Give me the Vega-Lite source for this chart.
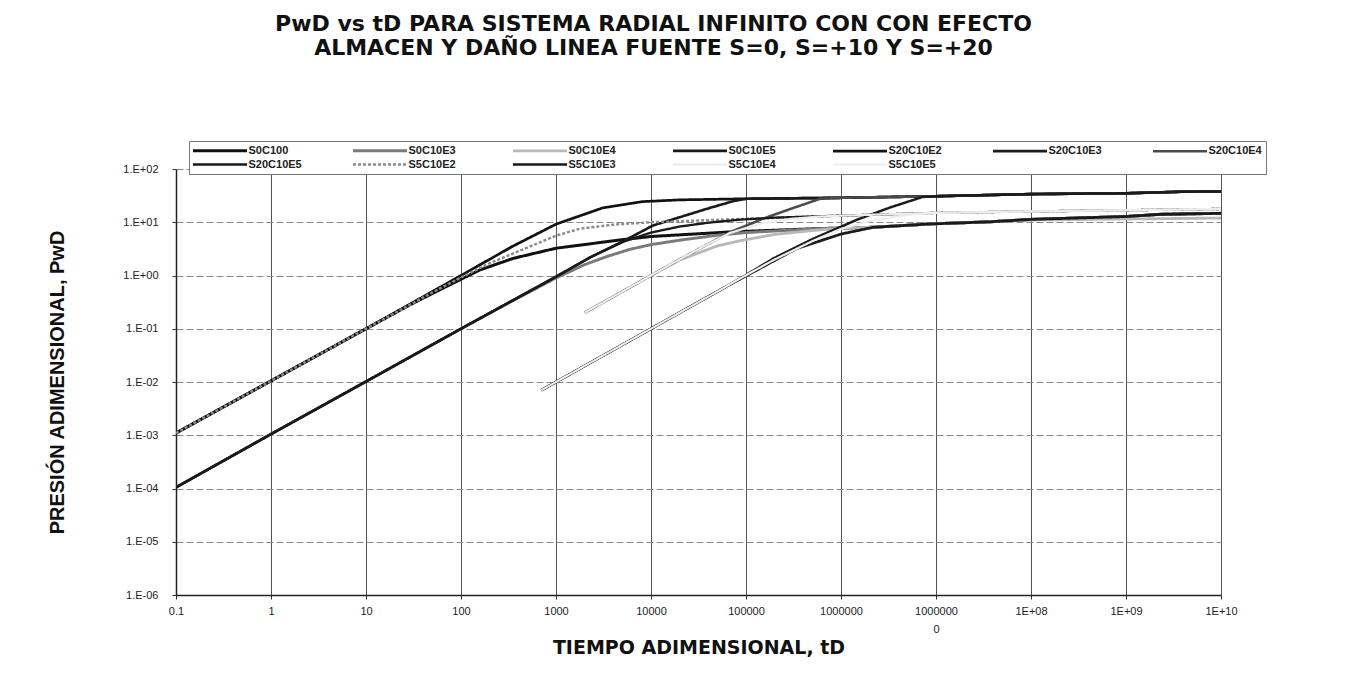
{
  "$schema": "https://vega.github.io/schema/vega-lite/v6.json",
  "autosize": {"type": "none"},
  "padding": {"left": 176, "top": 169, "right": 141, "bottom": 94},
  "width": 1045,
  "height": 426,
  "background": "white",
  "title": {
    "text": ["PwD vs tD PARA SISTEMA RADIAL INFINITO CON CON EFECTO", "ALMACEN Y DAÑO LINEA FUENTE  S=0, S=+10 Y S=+20"],
    "font": "DejaVu Sans",
    "fontSize": 22,
    "fontWeight": "bold",
    "color": "#111111",
    "anchor": "middle",
    "frame": "group",
    "dx": -45,
    "lineHeight": 24,
    "offset": 81
  },
  "data": {
    "values": [
      {"s": "S0C100", "t": 0.1, "p": 0.0011}, {"s": "S0C100", "t": 1, "p": 0.0105}, {"s": "S0C100", "t": 10, "p": 0.1}, {"s": "S0C100", "t": 30, "p": 0.29}, {"s": "S0C100", "t": 55, "p": 0.5}, {"s": "S0C100", "t": 100, "p": 0.85}, {"s": "S0C100", "t": 158, "p": 1.27}, {"s": "S0C100", "t": 355, "p": 2.1}, {"s": "S0C100", "t": 1000, "p": 3.25}, {"s": "S0C100", "t": 4700, "p": 4.65}, {"s": "S0C100", "t": 10000, "p": 5.4}, {"s": "S0C100", "t": 70000, "p": 6.6}, {"s": "S0C100", "t": 600000, "p": 7.6}, {"s": "S0C100", "t": 2200000, "p": 8.05}, {"s": "S0C100", "t": 8700000, "p": 9.3}, {"s": "S0C100", "t": 37000000, "p": 10.2}, {"s": "S0C100", "t": 100000000, "p": 11.3}, {"s": "S0C100", "t": 1000000000, "p": 12.8}, {"s": "S0C100", "t": 2300000000, "p": 14.1}, {"s": "S0C100", "t": 10000000000, "p": 14.7},

      {"s": "S0C10E3", "t": 0.1, "p": 0.000105}, {"s": "S0C10E3", "t": 1, "p": 0.00105}, {"s": "S0C10E3", "t": 10, "p": 0.0102}, {"s": "S0C10E3", "t": 100, "p": 0.1}, {"s": "S0C10E3", "t": 300, "p": 0.29}, {"s": "S0C10E3", "t": 1000, "p": 0.9}, {"s": "S0C10E3", "t": 2000, "p": 1.6}, {"s": "S0C10E3", "t": 3500, "p": 2.3}, {"s": "S0C10E3", "t": 6000, "p": 3.1}, {"s": "S0C10E3", "t": 10000, "p": 3.8}, {"s": "S0C10E3", "t": 20000, "p": 4.6}, {"s": "S0C10E3", "t": 50000, "p": 5.7}, {"s": "S0C10E3", "t": 100000, "p": 6.4}, {"s": "S0C10E3", "t": 600000, "p": 7.6}, {"s": "S0C10E3", "t": 2200000, "p": 8.05}, {"s": "S0C10E3", "t": 8700000, "p": 9.3}, {"s": "S0C10E3", "t": 37000000, "p": 10.2}, {"s": "S0C10E3", "t": 100000000, "p": 11.3}, {"s": "S0C10E3", "t": 1000000000, "p": 12.8}, {"s": "S0C10E3", "t": 2300000000, "p": 14.1}, {"s": "S0C10E3", "t": 10000000000, "p": 14.7},

      {"s": "S0C10E4", "t": 2000, "p": 0.2}, {"s": "S0C10E4", "t": 5000, "p": 0.5}, {"s": "S0C10E4", "t": 10000, "p": 1.0}, {"s": "S0C10E4", "t": 20000, "p": 1.95}, {"s": "S0C10E4", "t": 50000, "p": 3.6}, {"s": "S0C10E4", "t": 87000, "p": 4.5}, {"s": "S0C10E4", "t": 200000, "p": 5.9}, {"s": "S0C10E4", "t": 500000, "p": 7.0}, {"s": "S0C10E4", "t": 1000000, "p": 7.7}, {"s": "S0C10E4", "t": 2200000, "p": 8.05}, {"s": "S0C10E4", "t": 8700000, "p": 9.3}, {"s": "S0C10E4", "t": 37000000, "p": 10.2}, {"s": "S0C10E4", "t": 100000000, "p": 11.0}, {"s": "S0C10E4", "t": 1000000000, "p": 11.5}, {"s": "S0C10E4", "t": 10000000000, "p": 12.0},

      {"s": "S0C10E5", "t": 700, "p": 0.007}, {"s": "S0C10E5", "t": 1000, "p": 0.01}, {"s": "S0C10E5", "t": 10000, "p": 0.1}, {"s": "S0C10E5", "t": 50000, "p": 0.5}, {"s": "S0C10E5", "t": 68000, "p": 0.68}, {"s": "S0C10E5", "t": 150000, "p": 1.45}, {"s": "S0C10E5", "t": 340000, "p": 3.2}, {"s": "S0C10E5", "t": 1000000, "p": 6.0}, {"s": "S0C10E5", "t": 2200000, "p": 8.05}, {"s": "S0C10E5", "t": 8700000, "p": 9.3}, {"s": "S0C10E5", "t": 37000000, "p": 10.2}, {"s": "S0C10E5", "t": 100000000, "p": 11.3}, {"s": "S0C10E5", "t": 1000000000, "p": 12.8}, {"s": "S0C10E5", "t": 2300000000, "p": 14.1}, {"s": "S0C10E5", "t": 10000000000, "p": 14.7},

      {"s": "S20C10E2", "t": 0.1, "p": 0.0011}, {"s": "S20C10E2", "t": 1, "p": 0.0105}, {"s": "S20C10E2", "t": 10, "p": 0.1}, {"s": "S20C10E2", "t": 100, "p": 1.0}, {"s": "S20C10E2", "t": 346, "p": 3.5}, {"s": "S20C10E2", "t": 1000, "p": 9.2}, {"s": "S20C10E2", "t": 3100, "p": 18.6}, {"s": "S20C10E2", "t": 8100, "p": 24.4}, {"s": "S20C10E2", "t": 20000, "p": 26.3}, {"s": "S20C10E2", "t": 100000, "p": 27.6}, {"s": "S20C10E2", "t": 1000000, "p": 28.8}, {"s": "S20C10E2", "t": 10000000, "p": 30.8}, {"s": "S20C10E2", "t": 100000000, "p": 33.8}, {"s": "S20C10E2", "t": 1000000000, "p": 35.0}, {"s": "S20C10E2", "t": 4000000000, "p": 37.5}, {"s": "S20C10E2", "t": 10000000000, "p": 37.8},

      {"s": "S20C10E3", "t": 0.1, "p": 0.000105}, {"s": "S20C10E3", "t": 1, "p": 0.00105}, {"s": "S20C10E3", "t": 10, "p": 0.0102}, {"s": "S20C10E3", "t": 100, "p": 0.1}, {"s": "S20C10E3", "t": 1000, "p": 0.95}, {"s": "S20C10E3", "t": 2300, "p": 2.2}, {"s": "S20C10E3", "t": 5100, "p": 4.4}, {"s": "S20C10E3", "t": 10500, "p": 8.7}, {"s": "S20C10E3", "t": 20000, "p": 12.4}, {"s": "S20C10E3", "t": 40000, "p": 18.2}, {"s": "S20C10E3", "t": 74000, "p": 25.0}, {"s": "S20C10E3", "t": 100000, "p": 27.6}, {"s": "S20C10E3", "t": 1000000, "p": 28.8}, {"s": "S20C10E3", "t": 10000000, "p": 30.8}, {"s": "S20C10E3", "t": 100000000, "p": 33.8}, {"s": "S20C10E3", "t": 1000000000, "p": 35.0}, {"s": "S20C10E3", "t": 4000000000, "p": 37.5}, {"s": "S20C10E3", "t": 10000000000, "p": 37.8},

      {"s": "S20C10E4", "t": 2000, "p": 0.2}, {"s": "S20C10E4", "t": 5000, "p": 0.5}, {"s": "S20C10E4", "t": 10000, "p": 1.0}, {"s": "S20C10E4", "t": 20000, "p": 2.0}, {"s": "S20C10E4", "t": 40000, "p": 3.9}, {"s": "S20C10E4", "t": 68000, "p": 6.5}, {"s": "S20C10E4", "t": 150000, "p": 11.6}, {"s": "S20C10E4", "t": 300000, "p": 18.0}, {"s": "S20C10E4", "t": 600000, "p": 27.5}, {"s": "S20C10E4", "t": 1000000, "p": 28.8}, {"s": "S20C10E4", "t": 10000000, "p": 30.8}, {"s": "S20C10E4", "t": 100000000, "p": 33.8}, {"s": "S20C10E4", "t": 1000000000, "p": 35.0}, {"s": "S20C10E4", "t": 4000000000, "p": 37.5}, {"s": "S20C10E4", "t": 10000000000, "p": 37.8},

      {"s": "S20C10E5", "t": 700, "p": 0.007}, {"s": "S20C10E5", "t": 1000, "p": 0.01}, {"s": "S20C10E5", "t": 10000, "p": 0.1}, {"s": "S20C10E5", "t": 50000, "p": 0.5}, {"s": "S20C10E5", "t": 87000, "p": 0.88}, {"s": "S20C10E5", "t": 195000, "p": 2.1}, {"s": "S20C10E5", "t": 510000, "p": 4.9}, {"s": "S20C10E5", "t": 1480000, "p": 11.2}, {"s": "S20C10E5", "t": 3300000, "p": 19.0}, {"s": "S20C10E5", "t": 7200000, "p": 29.8}, {"s": "S20C10E5", "t": 10000000, "p": 30.8}, {"s": "S20C10E5", "t": 100000000, "p": 33.8}, {"s": "S20C10E5", "t": 1000000000, "p": 35.0}, {"s": "S20C10E5", "t": 4000000000, "p": 37.5}, {"s": "S20C10E5", "t": 10000000000, "p": 37.8},

      {"s": "S5C10E2", "t": 0.1, "p": 0.0011}, {"s": "S5C10E2", "t": 1, "p": 0.0105}, {"s": "S5C10E2", "t": 10, "p": 0.1}, {"s": "S5C10E2", "t": 50, "p": 0.48}, {"s": "S5C10E2", "t": 100, "p": 0.92}, {"s": "S5C10E2", "t": 200, "p": 1.7}, {"s": "S5C10E2", "t": 490, "p": 3.3}, {"s": "S5C10E2", "t": 1000, "p": 5.6}, {"s": "S5C10E2", "t": 1800, "p": 7.6}, {"s": "S5C10E2", "t": 4000, "p": 9.0}, {"s": "S5C10E2", "t": 10000, "p": 10.0}, {"s": "S5C10E2", "t": 100000, "p": 11.6}, {"s": "S5C10E2", "t": 1000000, "p": 13.3}, {"s": "S5C10E2", "t": 10000000, "p": 15.0}, {"s": "S5C10E2", "t": 100000000, "p": 16.0}, {"s": "S5C10E2", "t": 1000000000, "p": 16.8}, {"s": "S5C10E2", "t": 10000000000, "p": 17.8},

      {"s": "S5C10E3", "t": 0.1, "p": 0.000105}, {"s": "S5C10E3", "t": 1, "p": 0.00105}, {"s": "S5C10E3", "t": 10, "p": 0.0102}, {"s": "S5C10E3", "t": 100, "p": 0.1}, {"s": "S5C10E3", "t": 1000, "p": 0.95}, {"s": "S5C10E3", "t": 2300, "p": 2.2}, {"s": "S5C10E3", "t": 5100, "p": 4.3}, {"s": "S5C10E3", "t": 10000, "p": 6.4}, {"s": "S5C10E3", "t": 20000, "p": 8.3}, {"s": "S5C10E3", "t": 40000, "p": 9.8}, {"s": "S5C10E3", "t": 87000, "p": 11.2}, {"s": "S5C10E3", "t": 200000, "p": 12.2}, {"s": "S5C10E3", "t": 1000000, "p": 13.3}, {"s": "S5C10E3", "t": 10000000, "p": 15.0}, {"s": "S5C10E3", "t": 100000000, "p": 16.0}, {"s": "S5C10E3", "t": 1000000000, "p": 16.8}, {"s": "S5C10E3", "t": 10000000000, "p": 17.8},

      {"s": "S5C10E4", "t": 2000, "p": 0.2}, {"s": "S5C10E4", "t": 5000, "p": 0.5}, {"s": "S5C10E4", "t": 10000, "p": 1.0}, {"s": "S5C10E4", "t": 20000, "p": 2.0}, {"s": "S5C10E4", "t": 40000, "p": 3.9}, {"s": "S5C10E4", "t": 68000, "p": 6.3}, {"s": "S5C10E4", "t": 150000, "p": 9.6}, {"s": "S5C10E4", "t": 300000, "p": 11.6}, {"s": "S5C10E4", "t": 600000, "p": 12.8}, {"s": "S5C10E4", "t": 1000000, "p": 13.3}, {"s": "S5C10E4", "t": 10000000, "p": 15.0}, {"s": "S5C10E4", "t": 100000000, "p": 16.0}, {"s": "S5C10E4", "t": 1000000000, "p": 16.8}, {"s": "S5C10E4", "t": 10000000000, "p": 17.8},

      {"s": "S5C10E5", "t": 700, "p": 0.007}, {"s": "S5C10E5", "t": 1000, "p": 0.01}, {"s": "S5C10E5", "t": 10000, "p": 0.1}, {"s": "S5C10E5", "t": 50000, "p": 0.5}, {"s": "S5C10E5", "t": 87000, "p": 0.88}, {"s": "S5C10E5", "t": 195000, "p": 1.95}, {"s": "S5C10E5", "t": 510000, "p": 4.5}, {"s": "S5C10E5", "t": 1000000, "p": 7.5}, {"s": "S5C10E5", "t": 2000000, "p": 10.5}, {"s": "S5C10E5", "t": 5000000, "p": 13.8}, {"s": "S5C10E5", "t": 10000000, "p": 15.0}, {"s": "S5C10E5", "t": 100000000, "p": 16.0}, {"s": "S5C10E5", "t": 1000000000, "p": 16.8}, {"s": "S5C10E5", "t": 10000000000, "p": 17.8}
    ]
  },
  "mark": {"type": "line", "clip": true, "strokeJoin": "round", "strokeCap": "butt"},
  "encoding": {
    "x": {
      "field": "t",
      "type": "quantitative",
      "scale": {"type": "log", "domain": [0.1, 10000000000], "nice": false},
      "axis": {
        "values": [0.1, 1, 10, 100, 1000, 10000, 100000, 1000000, 10000000, 100000000, 1000000000, 10000000000],
        "labelExpr": "datum.value < 0.5 ? '0.1' : datum.value < 5000000 ? format(datum.value, 'd') : datum.value < 50000000 ? ['1000000', '0'] : datum.value < 500000000 ? '1E+08' : datum.value < 5000000000 ? '1E+09' : '1E+10'",
        "labelFont": "Liberation Sans",
        "labelFontSize": 11,
        "labelColor": "#222222",
        "labelPadding": 6,
        "labelLineHeight": 18,
        "labelFlush": false,
        "labelOverlap": false,
        "tickSize": 4,
        "tickColor": "#333333",
        "domainColor": "#222222",
        "domainWidth": 1.5,
        "grid": true,
        "gridColor": "#555555",
        "gridWidth": 1,
        "title": "TIEMPO ADIMENSIONAL, tD",
        "titleFont": "DejaVu Sans",
        "titleFontSize": 19,
        "titleFontWeight": "bold",
        "titleColor": "#111111",
        "titlePadding": 4
      }
    },
    "y": {
      "field": "p",
      "type": "quantitative",
      "scale": {"type": "log", "domain": [0.000001, 100], "nice": false},
      "axis": {
        "values": [0.000001, 0.00001, 0.0001, 0.001, 0.01, 0.1, 1, 10, 100],
        "labelExpr": "'1.E' + (datum.value >= 0.5 ? '+' : '-') + format(abs(round(log(datum.value) / LN10)), '02d')",
        "labelFont": "Liberation Sans",
        "labelFontSize": 11,
        "labelColor": "#222222",
        "labelPadding": 14,
        "tickSize": 4,
        "tickColor": "#333333",
        "domainColor": "#222222",
        "domainWidth": 1.5,
        "grid": true,
        "gridColor": "#8a8a8a",
        "gridDash": [7, 3],
        "gridWidth": 1,
        "title": "PRESIÓN ADIMENSIONAL, PwD",
        "titleFont": "Liberation Sans",
        "titleFontSize": 20,
        "titleFontWeight": "bold",
        "titleColor": "#111111",
        "titlePadding": 55
      }
    },
    "color": {
      "field": "s",
      "type": "nominal",
      "scale": {
        "domain": ["S0C100", "S0C10E3", "S0C10E4", "S0C10E5", "S20C10E2", "S20C10E3", "S20C10E4", "S20C10E5", "S5C10E2", "S5C10E3", "S5C10E4", "S5C10E5"],
        "range": ["#111111", "#7a7a7a", "#b8b8b8", "#1a1a1a", "#111111", "#1a1a1a", "#4a4a4a", "#1a1a1a", "#8a8a8a", "#1a1a1a", "#ededed", "#ededed"]
      },
      "legend": {
        "title": null,
        "orient": "none",
        "legendX": 13,
        "legendY": -28,
        "direction": "horizontal",
        "columns": 7,
        "gridAlign": "all",
        "symbolType": "M-9,0H9",
        "symbolSize": 36,
        "symbolOffset": 21.5,
        "labelFont": "Liberation Sans",
        "labelFontSize": 11,
        "labelFontWeight": "bold",
        "labelColor": "#222222",
        "labelOffset": 23,
        "columnPadding": 45,
        "rowPadding": 1,
        "padding": 4,
        "fillColor": "white",
        "strokeColor": "#777777"
      }
    },
    "strokeWidth": {
      "field": "s",
      "type": "nominal",
      "scale": {
        "domain": ["S0C100", "S0C10E3", "S0C10E4", "S0C10E5", "S20C10E2", "S20C10E3", "S20C10E4", "S20C10E5", "S5C10E2", "S5C10E3", "S5C10E4", "S5C10E5"],
        "range": [3, 2.2, 2.2, 2.4, 3, 2.4, 2.2, 2.4, 2, 2.4, 3.6, 3.6]
      }
    },
    "strokeDash": {
      "field": "s",
      "type": "nominal",
      "scale": {
        "domain": ["S0C100", "S0C10E3", "S0C10E4", "S0C10E5", "S20C10E2", "S20C10E3", "S20C10E4", "S20C10E5", "S5C10E2", "S5C10E3", "S5C10E4", "S5C10E5"],
        "range": [[1, 0], [1, 0], [1, 0], [1, 0], [1, 0], [1, 0], [1, 0], [1, 0], [3, 2], [1, 0], [1, 0], [1, 0]]
      }
    }
  },
  "config": {
    "font": "Liberation Sans",
    "view": {"stroke": null}
  }
}
